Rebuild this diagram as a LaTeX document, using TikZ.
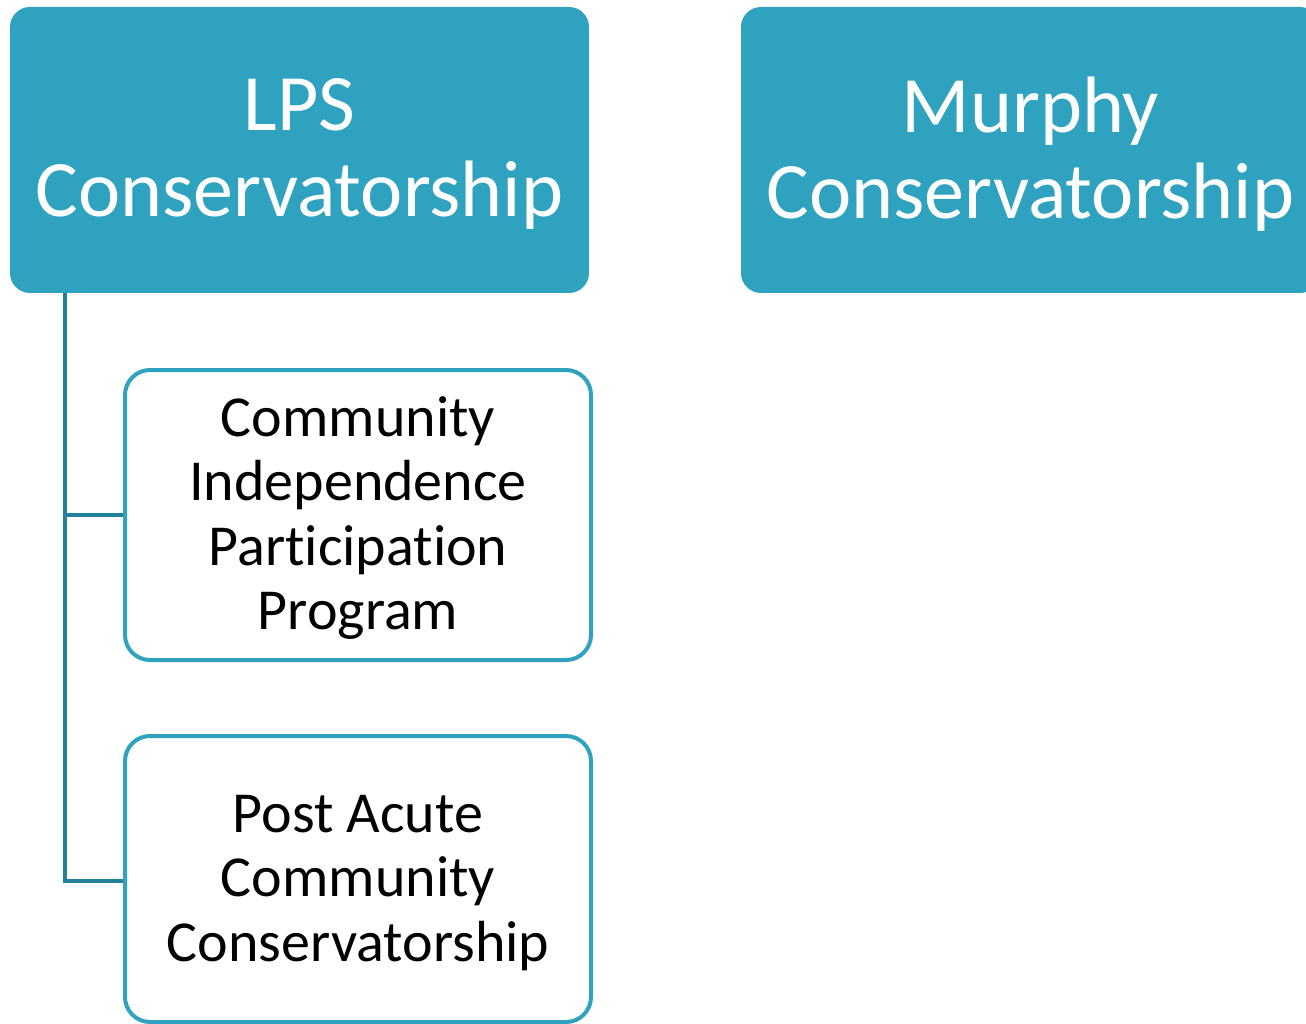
\documentclass[tikz,border=0pt]{standalone}
\usepackage{fontspec}
\setmainfont{Carlito}[Ligatures={NoCommon}]
\definecolor{teal1}{RGB}{46,162,191}
\definecolor{teal2}{RGB}{34,128,152}
\tikzset{
  topbox/.style={fill=teal1, draw=none, rounded corners=20pt, minimum width=579pt, minimum height=286pt,
     inner sep=0pt, outer sep=0pt},
  toptext/.style={text=white, align=center, inner sep=0pt, font=\fontsize{80}{86}\selectfont},
  subbox/.style={fill=white, draw=teal1, line width=4pt, rounded corners=25pt, minimum width=466pt,
     inner sep=0pt, outer sep=0pt},
  subtext/.style={text=black, align=center, inner sep=0pt, font=\fontsize{58}{64.5}\selectfont},
  conn/.style={draw=teal2, line width=4pt}
}
\begin{document}
\begin{tikzpicture}[x=1pt,y=-1pt]
\useasboundingbox (0,0) rectangle (1306,1024);
\clip (0,0) rectangle (1306,1024);
\node[topbox] (lps) at (299.5,150) {};
\node[toptext] (lpsT) at (299.5,154) {LPS\\Conservatorship};
\node[topbox] (murphy) at (1030.5,150) {};
\node[toptext] (murphyT) at (1030.5,154) {Murphy\\Conservatorship};
\node[subbox, minimum height=290pt] (cip) at (358,515) {};
\node[subtext] (cipT) at (358,518) {Community\\Independence\\Participation\\Program};
\node[subbox, minimum height=286pt] (pacc) at (358,879) {};
\node[subtext] (paccT) at (358,883) {Post Acute\\Community\\Conservatorship};
\coordinate (trunk) at (65,293);
\draw[conn] (trunk) |- ([xshift=-2pt]cip.west);
\draw[conn] (trunk) |- ([xshift=-2pt, yshift=-2pt]pacc.west);
\end{tikzpicture}
\end{document}
